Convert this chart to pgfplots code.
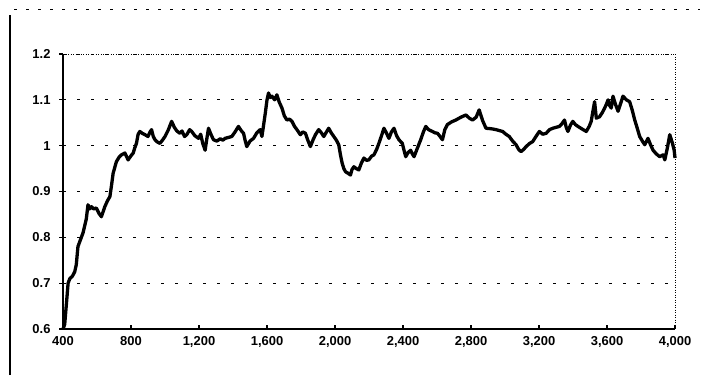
\documentclass[border=0pt]{standalone}
\usepackage{pgfplots}
\pgfplotsset{compat=1.18}
\usepackage{fontspec}
\setmainfont{Liberation Sans}
\begin{document}
\begin{tikzpicture}[x=1bp,y=1bp]
\path[use as bounding box] (0,0) rectangle (704,375);
% scan frame remnants
\draw[line width=2.2bp] (10,0) -- (10,360);
\draw[line width=1bp, dash pattern=on 3bp off 9bp] (14,365) -- (700,365);
\begin{axis}[
  at={(63bp,46bp)}, anchor=south west,
  scale only axis, width=612bp, height=275bp,
  xmin=400, xmax=4000, ymin=0.6, ymax=1.2,
  xtick={400,800,...,4000},
  ytick={0.6,0.7,...,1.2},
  axis x line*=bottom, axis y line*=left,
  axis line style={line width=2bp, -},
  tick style={black, line width=1.2bp},
  major tick length=4bp,
  xtick align=inside, ytick align=outside,
  ymajorgrids, grid style={black, line width=0.9bp, dash pattern=on 3bp off 11bp},
  tick label style={font=\fontsize{13}{15}\selectfont\bfseries},
  /pgf/number format/assume math mode=true,
  x tick label style={/pgf/number format/1000 sep={,}},
  y tick label style={/pgf/number format/.cd, fixed, precision=1},
  xticklabel shift=4bp, yticklabel shift=5bp,
  clip=false,
]
\draw[line width=0.9bp, dash pattern=on 1bp off 1.5bp] (rel axis cs:0,1) -- (rel axis cs:1,1) -- (rel axis cs:1,0);
\addplot[black, line width=3.3bp, line join=round] coordinates {
(400,0.600) (410,0.610) (419,0.650) (430,0.700) (440,0.710) (455,0.715) (469,0.725)
(478,0.740) (488,0.780) (503,0.795) (518,0.810) (537,0.840) (547,0.871) (557,0.862)
(567,0.867) (580,0.862) (596,0.864) (612,0.852) (626,0.845) (646,0.867) (662,0.880)
(676,0.889) (686,0.915) (695,0.940) (714,0.965) (730,0.975) (744,0.980) (764,0.984)
(783,0.969) (800,0.978) (813,0.984) (822,0.995) (832,1.005) (842,1.025) (852,1.031)
(866,1.027) (882,1.024) (900,1.020) (912,1.030) (921,1.035) (931,1.020) (941,1.013)
(955,1.008) (970,1.005) (985,1.012) (1000,1.020) (1020,1.035) (1039,1.053) (1055,1.040)
(1070,1.032) (1088,1.027) (1100,1.032) (1115,1.020) (1128,1.024) (1145,1.035) (1157,1.031)
(1175,1.022) (1197,1.016) (1210,1.025) (1222,1.005) (1236,0.990) (1246,1.015) (1256,1.038)
(1270,1.025) (1285,1.013) (1305,1.010) (1325,1.015) (1340,1.012) (1354,1.016) (1373,1.018)
(1393,1.020) (1412,1.030) (1432,1.042) (1450,1.032) (1462,1.027) (1471,1.012) (1481,0.998)
(1500,1.010) (1521,1.016) (1540,1.028) (1560,1.035) (1570,1.020) (1580,1.045) (1590,1.071)
(1600,1.100) (1609,1.115) (1619,1.105) (1629,1.108) (1645,1.100) (1658,1.111) (1672,1.095)
(1688,1.082) (1702,1.065) (1717,1.056) (1732,1.058) (1747,1.053) (1762,1.042) (1776,1.035)
(1796,1.024) (1811,1.030) (1826,1.027) (1840,1.012) (1855,0.998) (1870,1.012) (1885,1.024)
(1904,1.035) (1920,1.028) (1934,1.020) (1950,1.030) (1963,1.038) (1978,1.028) (1993,1.020)
(2008,1.012) (2022,1.002) (2032,0.980) (2042,0.962) (2052,0.950) (2062,0.943) (2076,0.940)
(2091,0.936) (2100,0.948) (2111,0.954) (2125,0.950) (2140,0.947) (2155,0.962) (2170,0.973)
(2185,0.968) (2199,0.969) (2215,0.977) (2229,0.980) (2245,0.992) (2258,1.005) (2272,1.020)
(2288,1.038) (2302,1.028) (2317,1.016) (2332,1.030) (2347,1.038) (2362,1.022) (2376,1.013)
(2396,1.005) (2406,0.990) (2416,0.976) (2430,0.985) (2445,0.990) (2455,0.982) (2465,0.976)
(2485,0.995) (2504,1.013) (2520,1.030) (2534,1.042) (2550,1.035) (2573,1.031) (2588,1.028)
(2603,1.027) (2618,1.020) (2632,1.013) (2646,1.035) (2661,1.046) (2686,1.052) (2711,1.056)
(2740,1.062) (2770,1.067) (2790,1.060) (2809,1.056) (2830,1.062) (2848,1.078) (2868,1.055)
(2888,1.038) (2918,1.037) (2947,1.035) (2966,1.033) (2986,1.031) (3005,1.025) (3025,1.020)
(3045,1.010) (3065,1.002) (3080,0.992) (3094,0.987) (3110,0.992) (3124,0.998) (3145,1.005)
(3163,1.009) (3182,1.020) (3202,1.031) (3222,1.025) (3242,1.027) (3262,1.035) (3281,1.038)
(3300,1.040) (3320,1.042) (3335,1.048) (3350,1.056) (3360,1.040) (3370,1.031) (3385,1.045)
(3399,1.053) (3414,1.046) (3429,1.042) (3455,1.036) (3478,1.031) (3495,1.042) (3507,1.053)
(3517,1.075) (3527,1.096) (3537,1.060) (3556,1.063) (3572,1.072) (3586,1.082) (3596,1.090)
(3606,1.100) (3615,1.088) (3625,1.082) (3635,1.108) (3650,1.090) (3665,1.075) (3680,1.092)
(3694,1.108) (3714,1.100) (3733,1.096) (3748,1.078) (3763,1.056) (3778,1.038) (3792,1.020)
(3808,1.010) (3822,1.002) (3841,1.016) (3856,1.002) (3871,0.990) (3890,0.982) (3910,0.976)
(3930,0.980) (3940,0.969) (3955,0.995) (3969,1.024) (3985,1.005) (3995,0.990) (4000,0.973)
};
\end{axis}
\end{tikzpicture}
\end{document}
